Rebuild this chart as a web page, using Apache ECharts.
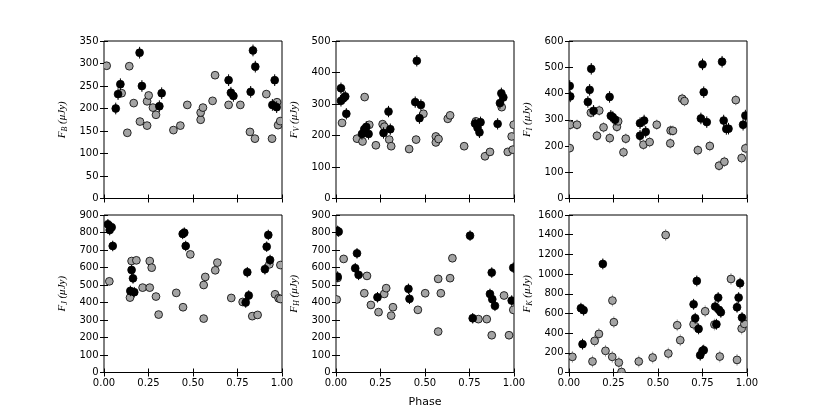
<!DOCTYPE html>
<html>
<head>
<meta charset="utf-8">
<script src="https://cdn.jsdelivr.net/npm/echarts@6/dist/echarts.min.js"></script>
<style>
html,body{margin:0;padding:0;background:#fff;}
#chart{width:830px;height:415px;}
</style>
</head>
<body>
<div id="chart"></div>
<script>
// ---- data: [phase, flux in microJansky] ----
const bBlack = [[0.066,200],[0.079,232],[0.092,254],[0.200,324],[0.213,250],[0.311,205],[0.324,234],[0.700,263],[0.713,235],[0.727,228],[0.824,237],[0.837,329],[0.850,293],[0.946,208],[0.959,263],[0.970,203]];
const bGray = [[0.015,295],[0.099,234],[0.131,146],[0.142,294],[0.167,212],[0.202,171],[0.242,216],[0.242,162],[0.251,229],[0.275,202],[0.292,186],[0.390,152],[0.429,162],[0.468,208],[0.543,175],[0.543,191],[0.556,202],[0.610,217],[0.624,274],[0.700,208],[0.766,208],[0.820,148],[0.848,133],[0.912,232],[0.944,133],[0.972,214],[0.978,163],[0.990,172]];

const vBlack = [[0.028,350],[0.028,310],[0.043,319],[0.052,324],[0.058,269],[0.146,205],[0.159,220],[0.170,227],[0.183,205],[0.267,208],[0.295,276],[0.305,220],[0.445,306],[0.454,437],[0.469,255],[0.477,297],[0.781,238],[0.795,225],[0.806,210],[0.812,242],[0.908,237],[0.921,303],[0.929,334],[0.940,321]];
const vGray = [[0.034,240],[0.118,190],[0.149,181],[0.161,322],[0.187,234],[0.224,169],[0.262,236],[0.272,228],[0.299,187],[0.310,166],[0.411,157],[0.450,187],[0.491,269],[0.561,197],[0.561,178],[0.576,189],[0.628,253],[0.641,264],[0.720,166],[0.786,245],[0.837,134],[0.865,148],[0.931,290],[0.965,148],[0.987,197],[0.993,155],[0.998,234]];

const iBlack = [[0.004,429],[0.007,389],[0.106,368],[0.116,414],[0.125,494],[0.138,334],[0.228,387],[0.235,315],[0.246,310],[0.259,300],[0.399,287],[0.399,239],[0.422,297],[0.431,254],[0.741,305],[0.750,511],[0.757,405],[0.774,291],[0.860,521],[0.869,297],[0.884,265],[0.896,266],[0.978,281],[0.991,316]];
const iGray = [[0.004,192],[0.007,281],[0.045,281],[0.123,327],[0.157,239],[0.170,335],[0.194,271],[0.229,230],[0.269,273],[0.276,294],[0.306,176],[0.319,228],[0.418,205],[0.453,215],[0.493,281],[0.569,210],[0.571,259],[0.584,258],[0.636,380],[0.649,371],[0.724,184],[0.791,200],[0.843,125],[0.873,140],[0.937,375],[0.970,154],[0.991,191]];

const jBlack = [[0.022,847],[0.032,814],[0.043,830],[0.049,723],[0.148,466],[0.155,586],[0.163,538],[0.170,459],[0.442,792],[0.451,799],[0.459,723],[0.796,400],[0.805,573],[0.813,440],[0.904,590],[0.914,719],[0.923,786],[0.933,643]];
const jGray = [[0.030,521],[0.146,428],[0.155,637],[0.182,641],[0.217,485],[0.257,485],[0.257,637],[0.268,599],[0.292,434],[0.307,331],[0.406,455],[0.444,373],[0.485,675],[0.560,500],[0.560,308],[0.569,546],[0.625,584],[0.637,628],[0.715,426],[0.779,403],[0.833,322],[0.863,329],[0.929,618],[0.961,447],[0.981,424],[0.991,614],[0.991,420]];

const hBlack = [[0.009,548],[0.008,809],[0.015,805],[0.108,596],[0.118,681],[0.127,558],[0.233,430],[0.407,478],[0.413,421],[0.753,782],[0.768,310],[0.865,449],[0.875,571],[0.878,419],[0.893,381],[0.987,411],[0.996,599]];
const hGray = [[0.004,417],[0.009,540],[0.043,649],[0.159,453],[0.174,552],[0.196,386],[0.239,345],[0.271,449],[0.282,482],[0.310,325],[0.320,373],[0.460,358],[0.501,453],[0.574,535],[0.574,234],[0.589,453],[0.641,539],[0.654,653],[0.800,305],[0.847,305],[0.875,213],[0.944,440],[0.972,213],[0.996,358]];

const kBlack = [[0.067,653],[0.076,288],[0.082,633],[0.190,1103],[0.700,693],[0.709,551],[0.718,930],[0.728,443],[0.737,176],[0.750,220],[0.757,227],[0.821,670],[0.828,490],[0.838,761],[0.843,636],[0.853,612],[0.944,663],[0.953,761],[0.961,907],[0.972,558]];
const kGray = [[0.019,159],[0.132,112],[0.144,321],[0.168,392],[0.205,220],[0.243,159],[0.244,731],[0.252,511],[0.280,101],[0.295,5],[0.392,112],[0.470,152],[0.543,1397],[0.558,193],[0.608,480],[0.625,328],[0.700,490],[0.765,622],[0.817,487],[0.847,162],[0.910,950],[0.944,128],[0.970,446],[0.985,494]];

// per-band typical uncertainties (microJansky)
const bandNames = ['B','V','I','J','H','K'];
const errBlack = [13, 18, 22, 30, 30, 55];
const errGray = [8, 12, 20, 20, 15, 60];
const yMax = [350, 500, 600, 900, 900, 1600];
const yStep = [50, 100, 100, 100, 100, 200];
const xTicks = ['0.00','0.25','0.50','0.75','1.00'];
const xLabel = 'Phase';
const blackSets = [bBlack, vBlack, iBlack, jBlack, hBlack, kBlack];
const graySets = [bGray, vGray, iGray, jGray, hGray, kGray];

// ---- layout ----
const lefts = [104, 336, 569];
const tops = [41, 215];
const W = 178, H = 157.5;
const tickFont = {fontFamily: 'DejaVu Sans', fontSize: 10, color: '#000'};

const grids = [], xAxes = [], yAxes = [], series = [];

function errRender(color, err) {
  return function (params, api) {
    const x = api.value(0), y = api.value(1);
    const a = api.coord([x, y - err]), b = api.coord([x, y + err]);
    return {type: 'line', shape: {x1: a[0], y1: a[1], x2: b[0], y2: b[1]},
            style: {stroke: color, lineWidth: 1}};
  };
}
function ptRender(fill) {
  return function (params, api) {
    const p = api.coord([api.value(0), api.value(1)]);
    return {type: 'circle', shape: {cx: p[0], cy: p[1], r: 3.9},
            style: {fill: fill, stroke: '#000', lineWidth: 0.8}};
  };
}

for (let k = 0; k < 6; k++) {
  const row = Math.floor(k / 3), col = k % 3;
  grids.push({left: lefts[col], top: tops[row], width: W, height: H,
              show: true, borderColor: '#000', borderWidth: 1, backgroundColor: 'transparent'});
  const common = {type: 'value', min: 0, max: 1, interval: 0.25, gridIndex: k,
                  axisLine: {show: false}, splitLine: {show: false},
                  axisTick: {inside: true, length: 4, lineStyle: {color: '#000', width: 1}}};
  xAxes.push(Object.assign({}, common, {
    position: 'bottom',
    axisLabel: {show: row === 1, margin: 6, ...tickFont,
                formatter: v => xTicks[Math.round(v / 0.25)]},
    name: (k === 4) ? xLabel : '', nameLocation: 'middle', nameGap: 24,
    nameTextStyle: {fontFamily: 'DejaVu Sans', fontSize: 11, color: '#000'}
  }));
  xAxes.push(Object.assign({}, common, {position: 'top', axisLabel: {show: false}}));
  const yc = {type: 'value', min: 0, max: yMax[k], interval: yStep[k], gridIndex: k,
              axisLine: {show: false}, splitLine: {show: false},
              axisTick: {inside: true, length: 4, lineStyle: {color: '#000', width: 1}}};
  yAxes.push(Object.assign({}, yc, {
    position: 'left',
    axisLabel: {show: true, margin: 5.5, ...tickFont, formatter: v => String(v)},
    name: '{f|F}{s|' + bandNames[k] + '}{f| (μJy)}',
    nameLocation: 'middle', nameRotate: 90, nameGap: 35,
    nameTextStyle: {
      rich: {
        f: {fontFamily: 'Liberation Serif', fontStyle: 'italic', fontSize: 11, color: '#000', lineHeight: 13},
        s: {fontFamily: 'Liberation Serif', fontStyle: 'italic', fontSize: 8, color: '#000', lineHeight: 8, verticalAlign: 'bottom'}
      }
    }
  }));
  yAxes.push(Object.assign({}, yc, {position: 'right', axisLabel: {show: false}}));

  const xi = 2 * k, yi = 2 * k;
  series.push({type: 'custom', xAxisIndex: xi, yAxisIndex: yi, clip: true, z: 1,
               data: graySets[k], encode: {x: 0, y: 1}, renderItem: errRender('#a8a8a8', errGray[k])});
  series.push({type: 'custom', xAxisIndex: xi, yAxisIndex: yi, clip: true, z: 2,
               data: graySets[k], encode: {x: 0, y: 1}, renderItem: ptRender('#a3a3a3')});
  series.push({type: 'custom', xAxisIndex: xi, yAxisIndex: yi, clip: true, z: 3,
               data: blackSets[k], encode: {x: 0, y: 1}, renderItem: errRender('#000', errBlack[k])});
  series.push({type: 'custom', xAxisIndex: xi, yAxisIndex: yi, clip: true, z: 4,
               data: blackSets[k], encode: {x: 0, y: 1}, renderItem: ptRender('#000')});
}

const chart = echarts.init(document.getElementById('chart'), null, {renderer: 'canvas'});
chart.setOption({
  animation: false,
  backgroundColor: '#fff',
  grid: grids, xAxis: xAxes, yAxis: yAxes, series: series
});
</script>
</body>
</html>
